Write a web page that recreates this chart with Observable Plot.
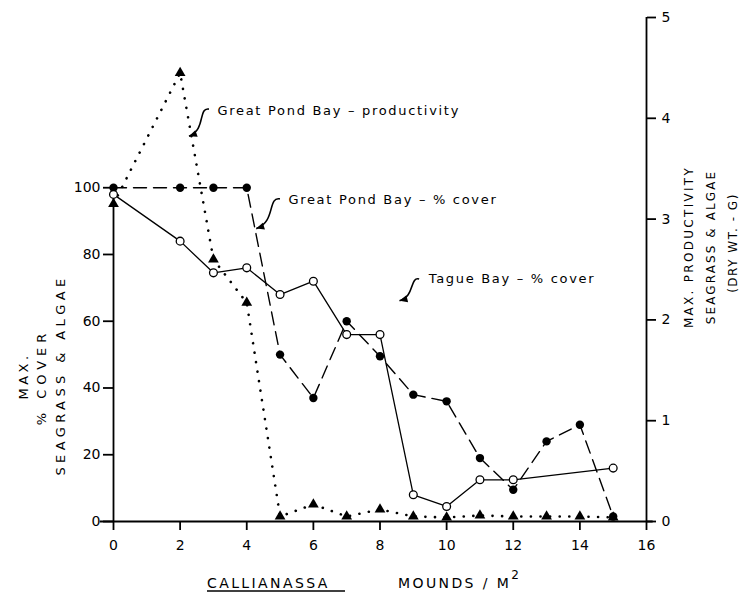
<!DOCTYPE html>
<html><head><meta charset="utf-8">
<script src="https://cdn.jsdelivr.net/npm/d3@7"></script>
<script src="https://cdn.jsdelivr.net/npm/@observablehq/plot@0.6"></script>
<style>body{margin:0;background:#fff} svg{display:block}</style>
</head><body><div id="chart"></div>
<script>
// Data
const mounds = [0,2,3,4,5,6,7,8,9,10,11,12,13,14,15];
const gpbCover = [100,100,100,100,50,37,60,49.5,38,36,19,9.5,24,29,1.5];
const tagueMounds = [0,2,3,4,5,6,7,8,9,10,11,12,15];
const tagueCover = [98,84,74.5,76,68,72,56,56,8,4.5,12.5,12.5,16];
const prodMounds = [0,2,3,4,5,6,7,8,9,10,11,12,13,14,15];
const gpbProd = [3.15,4.45,2.6,2.17,0.05,0.17,0.05,0.12,0.05,0.04,0.06,0.05,0.05,0.05,0.04];
const xTicks = [0,2,4,6,8,10,12,14,16];
const coverTicks = [0,20,40,60,80,100];
const prodTicks = [0,1,2,3,4,5];
const notes = ["Great Pond Bay – productivity","Great Pond Bay – % cover","Tague Bay – % cover"];
const noteX = [3.12,5.25,9.46];
const noteY = [123.1,96.5,72.8];
const arrowX1 = [2.88,5.01,9.19], arrowY1 = [123.4,96.5,72.5];
const arrowX2 = [2.28,4.30,8.60], arrowY2 = [115.3,87.6,66.0];

const K = 30.2; // productivity unit in % cover units (dual axis)

const gpbCoverData = mounds.map((m,i)=>({m, v:gpbCover[i]}));
const tagueData = tagueMounds.map((m,i)=>({m, v:tagueCover[i]}));
const prodData = prodMounds.map((m,i)=>({m, v:gpbProd[i]*K}));
const noteData = notes.map((t,i)=>({t, x:noteX[i], y:noteY[i]}));

const FONT = "'DejaVu Sans', sans-serif";
const plot = Plot.plot({
  width:745, height:592, marginLeft:113, marginRight:99, marginTop:17, marginBottom:71,
  style:{fontFamily:FONT, fontSize:"13px", background:"#fff", color:"#000"},
  x:{domain:[0,16]}, y:{domain:[0,5*K]},
  marks:[
    Plot.ruleY([0],{x1:-0.4, x2:16.2, stroke:"#000", strokeWidth:1.8}),
    Plot.ruleX([0],{y1:0, y2:100, stroke:"#000", strokeWidth:1.8}),
    Plot.ruleX([16],{y1:0, y2:5*K, stroke:"#000", strokeWidth:1.8}),
    Plot.axisX({ticks:xTicks, tickSize:9, tickPadding:10, label:null, strokeWidth:1.8, fontSize:14}),
    Plot.axisY({ticks:coverTicks, anchor:"left", tickSize:10, tickPadding:3, label:null, strokeWidth:1.8, fontSize:14}),
    Plot.axisY({ticks:prodTicks.map(v=>v*K), tickFormat:d=>String(Math.round(d/K)), anchor:"right", tickSize:9, tickPadding:6, label:null, strokeWidth:1.8, fontSize:14}),
    Plot.line(prodData,{x:"m", y:"v", stroke:"#000", strokeWidth:2.6, strokeDasharray:"0.1,9.5", strokeLinecap:"round"}),
    Plot.line(gpbCoverData,{x:"m", y:"v", stroke:"#000", strokeWidth:1.4, strokeDasharray:"13,7"}),
    Plot.line(tagueData,{x:"m", y:"v", stroke:"#000", strokeWidth:1.3}),
    Plot.dot(prodData,{x:"m", y:"v", symbol:"triangle", r:4, fill:"#000"}),
    Plot.dot(gpbCoverData,{x:"m", y:"v", r:4.2, fill:"#000"}),
    Plot.dot(tagueData,{x:"m", y:"v", r:3.9, fill:"#fff", stroke:"#000", strokeWidth:1.3}),
    Plot.text(noteData,{x:"x", y:"y", text:"t", textAnchor:"start", lineAnchor:"middle", fontSize:13, fill:"#000"})
  ]
});
document.getElementById("chart").appendChild(plot);
const svg = d3.select(plot);
svg.selectAll('g[aria-label="text"] text').style("letter-spacing","1.7px");

// squiggle annotation arrows
const sx = plot.scale("x"), sy = plot.scale("y");
arrowX1.forEach((_, i) => {
  const x1 = sx.apply(arrowX1[i]), y1 = sy.apply(arrowY1[i]);
  const x2 = sx.apply(arrowX2[i]), y2 = sy.apply(arrowY2[i]);
  const dx = x2 - x1, dy = y2 - y1, len = Math.hypot(dx, dy);
  const nx = -dy / len, ny = dx / len, a = len * 0.3;
  const c1 = [x1 + dx*0.15 + nx*a, y1 + dy*0.15 + ny*a];
  const c2 = [x1 + dx*0.55 - nx*a, y1 + dy*0.55 - ny*a];
  svg.append("path").attr("d", `M${x1},${y1}C${c1}, ${c2}, ${x2},${y2}`)
    .attr("fill","none").attr("stroke","#000").attr("stroke-width",1.6);
  const ex = x2 - c2[0], ey = y2 - c2[1], el = Math.hypot(ex, ey);
  const ux = ex/el, uy = ey/el, h = 8, w = 3.5;
  const bx = x2 - ux*h, by = y2 - uy*h;
  svg.append("path").attr("d", `M${x2},${y2}L${bx - uy*w},${by + ux*w}L${bx + uy*w},${by - ux*w}Z`)
    .attr("fill","#000");
});

function vtext(x, y, str, size, ls){
  svg.append("text").attr("transform",`translate(${x},${y}) rotate(-90)`)
    .attr("text-anchor","middle").attr("dominant-baseline","middle")
    .style("font-family",FONT).style("font-size",size+"px").style("letter-spacing",ls+"px")
    .attr("fill","#000").text(str);
}
vtext(24, 376, "MAX.", 13, 3.5);
vtext(42, 377, "% COVER", 13, 5);
vtext(61, 375, "SEAGRASS & ALGAE", 13, 4.4);
vtext(689, 247, "MAX. PRODUCTIVITY", 12, 2.3);
vtext(711, 247, "SEAGRASS & ALGAE", 12, 2.1);
vtext(733, 243, "(DRY WT. - G)", 12, 1.5);

svg.append("text").attr("x",207).attr("y",588).attr("text-anchor","start")
  .style("font-family",FONT).style("font-size","14px").style("letter-spacing","2.4px").attr("fill","#000")
  .text("CALLIANASSA");
svg.append("line").attr("x1",207).attr("x2",345).attr("y1",591).attr("y2",591).attr("stroke","#000").attr("stroke-width",1.6);
const xt2 = svg.append("text").attr("x",398).attr("y",588).attr("text-anchor","start")
  .style("font-family",FONT).style("font-size","14px").style("letter-spacing","2.4px").attr("fill","#000");
xt2.append("tspan").text("MOUNDS / M");
xt2.append("tspan").attr("dy",-9).style("font-size","12px").text("2");
</script></body></html>
